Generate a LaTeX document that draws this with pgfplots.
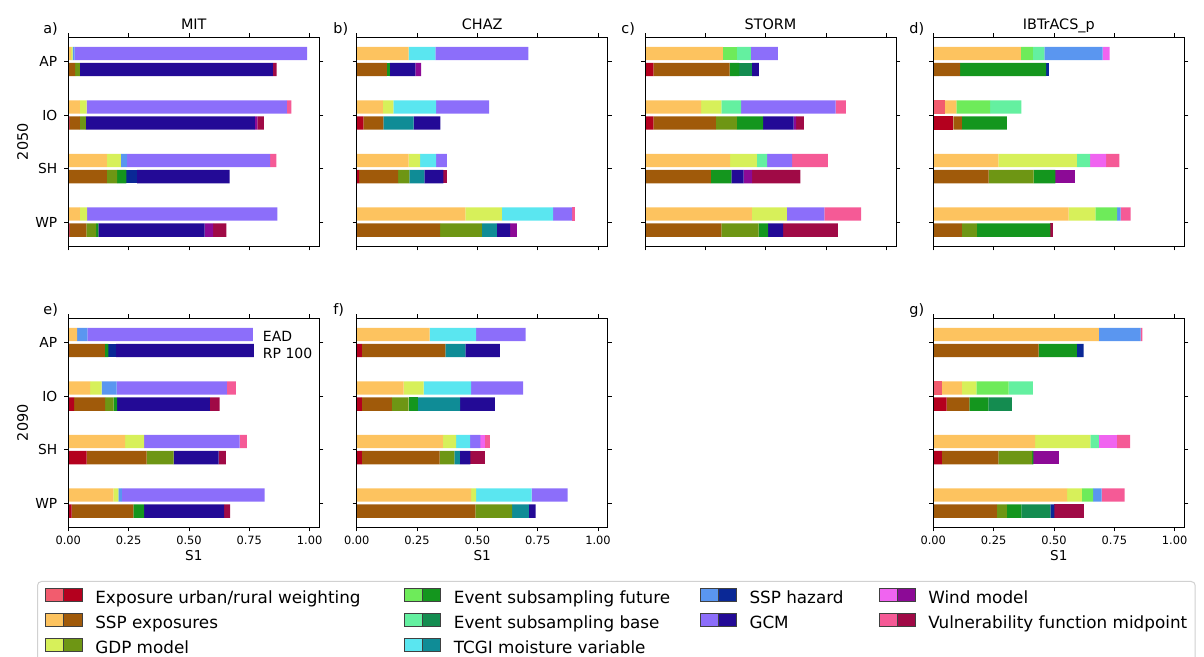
\documentclass[border=0pt]{standalone}
\usepackage{pgfplots}
\pgfplotsset{compat=1.18}
\usepackage{pgfplotstable}
\usepackage{fontspec}
\setmainfont{DejaVu Sans}

% light shade = EAD, dark shade = RP 100
\definecolor{cexpL}{HTML}{F25C6E}  \definecolor{cexpD}{HTML}{B4001E}
\definecolor{csspL}{HTML}{FDC35F}  \definecolor{csspD}{HTML}{A05A0A}
\definecolor{cgdpL}{HTML}{D7F05A}  \definecolor{cgdpD}{HTML}{6E9614}
\definecolor{cesfL}{HTML}{6EEB5A}  \definecolor{cesfD}{HTML}{14961E}
\definecolor{cesbL}{HTML}{64F0A0}  \definecolor{cesbD}{HTML}{148C50}
\definecolor{ctcgiL}{HTML}{5AE6F0} \definecolor{ctcgiD}{HTML}{0F8C96}
\definecolor{csshL}{HTML}{5A96F0}  \definecolor{csshD}{HTML}{0A2896}
\definecolor{cgcmL}{HTML}{8C6EFA}  \definecolor{cgcmD}{HTML}{230A96}
\definecolor{cwindL}{HTML}{F064F0} \definecolor{cwindD}{HTML}{8C0A96}
\definecolor{cvulnL}{HTML}{F55A96} \definecolor{cvulnD}{HTML}{A00A46}

% first-order sensitivity indices S1; rows AP, IO, SH, WP
% ---- MIT 2050
\pgfplotstableread{
y exp ssp gdp esf esb tcgi ssh gcm wind vuln
-0.15 0 0.012 0.006 0 0 0 0.008 0.964 0 0
0.85 0 0.048 0.028 0 0 0 0 0.830 0 0.018
1.85 0 0.160 0.058 0 0 0 0.025 0.593 0 0.026
2.85 0 0.048 0.030 0 0 0 0 0.788 0 0
}\aEAD
\pgfplotstableread{
y exp ssp gdp esf esb tcgi ssh gcm wind vuln
0.15 0 0.028 0.020 0 0 0 0 0.800 0 0.015
1.15 0.005 0.043 0.025 0 0 0 0 0.700 0.010 0.027
2.15 0 0.160 0.042 0.039 0 0 0.044 0.383 0 0
3.15 0.005 0.070 0.040 0.010 0 0 0 0.440 0.035 0.055
}\aRP
% ---- CHAZ 2050
\pgfplotstableread{
y exp ssp gdp esf esb tcgi ssh gcm wind vuln
-0.15 0 0.215 0 0 0 0.111 0 0.385 0 0
0.85 0 0.108 0.044 0 0 0.177 0 0.220 0 0
1.85 0 0.215 0.048 0 0 0.066 0 0.045 0 0
2.85 0 0.450 0.152 0 0 0.212 0 0.079 0 0.010
}\bEAD
\pgfplotstableread{
y exp ssp gdp esf esb tcgi ssh gcm wind vuln
0.15 0 0.125 0 0.011 0 0 0 0.107 0.024 0
1.15 0.028 0.083 0 0 0 0.125 0 0.111 0 0
2.15 0.010 0.162 0.046 0 0 0.062 0 0.079 0 0.014
3.15 0 0.346 0.173 0 0 0.062 0 0.055 0.028 0
}\bRP
% ---- STORM 2050
\pgfplotstableread{
y exp ssp gdp esf esb tcgi ssh gcm wind vuln
-0.15 0 0.323 0 0.058 0.058 0 0 0.112 0 0
0.85 0 0.233 0.083 0 0.082 0 0 0.392 0 0.042
1.85 0 0.353 0.111 0 0.042 0 0 0.104 0 0.148
2.85 0 0.443 0.145 0 0 0 0 0.155 0 0.152
}\cEAD
\pgfplotstableread{
y exp ssp gdp esf esb tcgi ssh gcm wind vuln
0.15 0.035 0.316 0 0.040 0.053 0 0 0.028 0 0
1.15 0.035 0.259 0.087 0.108 0 0 0 0.127 0.010 0.032
2.15 0 0.273 0 0.085 0 0 0 0.051 0.035 0.200
3.15 0 0.316 0.155 0.039 0 0 0 0.062 0 0.227
}\cRP
% ---- IBTrACS_p 2050
\pgfplotstableread{
y exp ssp gdp esf esb tcgi ssh gcm wind vuln
-0.15 0 0.363 0 0.050 0.047 0 0.242 0 0.029 0
0.85 0.048 0.048 0 0.139 0.130 0 0 0 0 0
1.85 0 0.270 0.325 0 0.055 0 0 0 0.066 0.055
2.85 0 0.561 0.111 0.090 0 0 0.014 0 0 0.042
}\dEAD
\pgfplotstableread{
y exp ssp gdp esf esb tcgi ssh gcm wind vuln
0.15 0 0.111 0 0.356 0 0 0.011 0 0 0
1.15 0.083 0.035 0 0.187 0 0 0 0 0 0
2.15 0 0.229 0.187 0.090 0 0 0 0 0.079 0
3.15 0 0.118 0.062 0.305 0 0 0 0 0 0.012
}\dRP
% ---- MIT 2090
\pgfplotstableread{
y exp ssp gdp esf esb tcgi ssh gcm wind vuln
-0.15 0 0.037 0 0 0 0 0.042 0.686 0 0
0.85 0 0.090 0.048 0 0 0 0.062 0.457 0 0.037
1.85 0 0.235 0.079 0 0 0 0 0.396 0 0.030
2.85 0 0.187 0.021 0 0 0 0.014 0.591 0 0
}\eEAD
\pgfplotstableread{
y exp ssp gdp esf esb tcgi ssh gcm wind vuln
0.15 0 0.152 0 0.014 0 0 0.032 0.571 0 0
1.15 0.024 0.129 0.035 0.014 0 0 0 0.385 0 0.040
2.15 0.076 0.249 0.111 0 0 0 0 0.187 0 0.030
3.15 0.014 0.256 0 0.044 0 0 0 0.332 0 0.025
}\eRP
% ---- CHAZ 2090
\pgfplotstableread{
y exp ssp gdp esf esb tcgi ssh gcm wind vuln
-0.15 0 0.302 0 0 0 0.193 0 0.205 0 0
0.85 0 0.194 0.083 0 0 0.197 0 0.216 0 0
1.85 0 0.357 0.055 0 0 0.058 0 0.042 0.020 0.019
2.85 0 0.474 0.021 0 0 0.230 0 0.149 0 0
}\fEAD
\pgfplotstableread{
y exp ssp gdp esf esb tcgi ssh gcm wind vuln
0.15 0.021 0.346 0 0 0 0.083 0 0.143 0 0
1.15 0.021 0.125 0.069 0.037 0 0.177 0 0.143 0 0
2.15 0.021 0.323 0.061 0 0 0.022 0 0.044 0 0.062
3.15 0 0.492 0.152 0 0 0.069 0 0.028 0 0
}\fRP
% ---- IBTrACS_p 2090
\pgfplotstableread{
y exp ssp gdp esf esb tcgi ssh gcm wind vuln
-0.15 0 0.686 0 0 0 0 0.173 0 0 0.007
0.85 0.035 0.083 0.060 0.134 0.101 0 0 0 0 0
1.85 0 0.422 0.229 0 0.035 0 0 0 0.076 0.053
2.85 0 0.554 0.062 0.046 0 0 0.035 0 0 0.096
}\gEAD
\pgfplotstableread{
y exp ssp gdp esf esb tcgi ssh gcm wind vuln
0.15 0 0.436 0 0.159 0 0 0.028 0 0 0
1.15 0.055 0.094 0 0.079 0.097 0 0 0 0 0
2.15 0.035 0.235 0.139 0.006 0 0 0 0 0.104 0
3.15 0 0.263 0.042 0.060 0.120 0 0.017 0 0 0.122
}\gRP

\pgfplotsset{
  panel/.style={
    scale only axis, width=125.5pt, height=104.5pt,
    xmin=0, xmax=1.04, ymin=-0.4525, ymax=3.4525, y dir=reverse,
    xtick={0,0.25,0.5,0.75,1}, ytick={0,1,2,3},
    xticklabels={}, yticklabels={},
    tick align=outside, major tick length=2pt,
    every tick/.style={black, line width=0.45pt},
    axis line style={black, line width=0.5pt},
    xbar stacked, bar width=0.25,
    xticklabel style={font=\fontsize{5.7}{6}\selectfont, yshift=1pt},
    yticklabel style={font=\fontsize{6.9}{8}\selectfont},
    ylabel style={at={(axis description cs:-0.1817,0.5)}, anchor=center,
                  font=\fontsize{7.2}{8}\selectfont},
    xlabel style={at={(axis description cs:0.5,-0.16)}, anchor=base,
                  font=\fontsize{6.8}{8}\selectfont},
  },
}

% one stacked bar per region for every input factor
\newcommand{\stackbars}[2]{%
  \addplot[draw=none, fill=cexp#2]  table[x=exp, y=y]{#1};
  \addplot[draw=none, fill=cssp#2]  table[x=ssp, y=y]{#1};
  \addplot[draw=none, fill=cgdp#2]  table[x=gdp, y=y]{#1};
  \addplot[draw=none, fill=cesf#2]  table[x=esf, y=y]{#1};
  \addplot[draw=none, fill=cesb#2]  table[x=esb, y=y]{#1};
  \addplot[draw=none, fill=ctcgi#2] table[x=tcgi, y=y]{#1};
  \addplot[draw=none, fill=cssh#2]  table[x=ssh, y=y]{#1};
  \addplot[draw=none, fill=cgcm#2]  table[x=gcm, y=y]{#1};
  \addplot[draw=none, fill=cwind#2] table[x=wind, y=y]{#1};
  \addplot[draw=none, fill=cvuln#2] table[x=vuln, y=y]{#1};
}

% #1 position, #2 EAD table, #3 RP 100 table, #4 axis options, #5 extra content
\newcommand{\panel}[5]{%
  \begin{axis}[panel, hide axis, at={#1}, anchor=north west]
    \stackbars{#3}{D}
  \end{axis}
  \begin{axis}[panel, axis on top, at={#1}, anchor=north west, #4]
    \stackbars{#2}{L}
    #5
  \end{axis}
}

\newcommand{\legpatch}[2]{\addlegendimage{legend image code/.code={%
  \draw[sharp corners, black!75, line width=0.4pt, fill=#1] (0pt,-1pt) rectangle (9pt,5.5pt);
  \draw[sharp corners, black!75, line width=0.4pt, fill=#2] (9pt,-1pt) rectangle (18pt,5.5pt);}}}
% fixed-width legend columns
\newcommand{\colA}[1]{\makebox[154.4pt][l]{#1}}
\newcommand{\colB}[1]{\makebox[122.9pt][l]{#1}}
\newcommand{\colC}[1]{\makebox[64.5pt][l]{#1}}

\begin{document}
\begin{tikzpicture}
\useasboundingbox (0,0) rectangle (602pt,328.5pt);

\panel{(34.15pt,309.85pt)}{\aEAD}{\aRP}{yticklabels={AP,IO,SH,WP}, ylabel={2050}}{}
\panel{(178.35pt,309.85pt)}{\bEAD}{\bRP}{}{}
\panel{(322.5pt,309.85pt)}{\cEAD}{\cRP}{}{}
\panel{(466.65pt,309.85pt)}{\dEAD}{\dRP}{}{}

\panel{(34.15pt,169.35pt)}{\eEAD}{\eRP}{yticklabels={AP,IO,SH,WP}, ylabel={2090},
  xticklabels={0.00,0.25,0.50,0.75,1.00}, xlabel={S1}}{%
  \node[anchor=west, inner sep=0pt, yshift=-1pt, font=\fontsize{7}{8}\selectfont] at (axis cs:0.805,-0.15) {EAD};
  \node[anchor=west, inner sep=0pt, yshift=-1.3pt, font=\fontsize{7}{8}\selectfont] at (axis cs:0.805,0.15) {RP 100};}
\panel{(178.35pt,169.35pt)}{\fEAD}{\fRP}{xticklabels={0.00,0.25,0.50,0.75,1.00}, xlabel={S1}}{}
\panel{(466.65pt,169.35pt)}{\gEAD}{\gRP}{xticklabels={0.00,0.25,0.50,0.75,1.00}, xlabel={S1}}{}

% model titles above the top row
\begin{scope}[every node/.style={anchor=base, inner sep=0pt, font=\fontsize{7.2}{8}\selectfont}]
\node at (96.9pt,313.5pt) {MIT};
\node at (241.1pt,313.5pt) {CHAZ};
\node at (385.25pt,313.5pt) {STORM};
\node at (529.4pt,313.5pt) {IBTrACS\_p};
\end{scope}

% panel letters
\begin{scope}[every node/.style={anchor=base west, inner sep=0pt, font=\fontsize{7.2}{8}\selectfont}]
\node at (21.5pt,311.8pt) {a)};
\node at (166.5pt,311.8pt) {b)};
\node at (310.5pt,311.8pt) {c)};
\node at (454.5pt,311.8pt) {d)};
\node at (21.5pt,171pt) {e)};
\node at (166.5pt,171pt) {f)};
\node at (454.5pt,171pt) {g)};
\end{scope}

% shared legend
\begin{axis}[hide axis, scale only axis, width=10pt, height=10pt,
  at={(18.5pt,38pt)}, anchor=north west,
  xmin=0, xmax=1, ymin=0, ymax=1,
  legend columns=4, legend cell align=left,
  legend style={at={(0,1)}, anchor=north west,
    draw=black!18, line width=0.5pt, rounded corners=2pt, fill=white,
    font=\fontsize{8.4}{9}\selectfont,
    inner xsep=4pt, inner ysep=3.5pt, row sep=2.75pt,
    nodes={inner sep=0pt, text height=6pt, text depth=2pt},
    /tikz/every even column/.append style={column sep=0pt},
    /tikz/every odd column/.append style={column sep=6.5pt}}]
\legpatch{cexpL}{cexpD}\addlegendentry{\colA{Exposure urban/rural weighting}}
\legpatch{cesfL}{cesfD}\addlegendentry{\colB{Event subsampling future}}
\legpatch{csshL}{csshD}\addlegendentry{\colC{SSP hazard}}
\legpatch{cwindL}{cwindD}\addlegendentry{Wind model}
\legpatch{csspL}{csspD}\addlegendentry{\colA{SSP exposures}}
\legpatch{cesbL}{cesbD}\addlegendentry{\colB{Event subsampling base}}
\legpatch{cgcmL}{cgcmD}\addlegendentry{\colC{GCM}}
\legpatch{cvulnL}{cvulnD}\addlegendentry{Vulnerability function midpoint}
\legpatch{cgdpL}{cgdpD}\addlegendentry{\colA{GDP model}}
\legpatch{ctcgiL}{ctcgiD}\addlegendentry{\colB{TCGI moisture variable}}
\end{axis}
\end{tikzpicture}
\end{document}
